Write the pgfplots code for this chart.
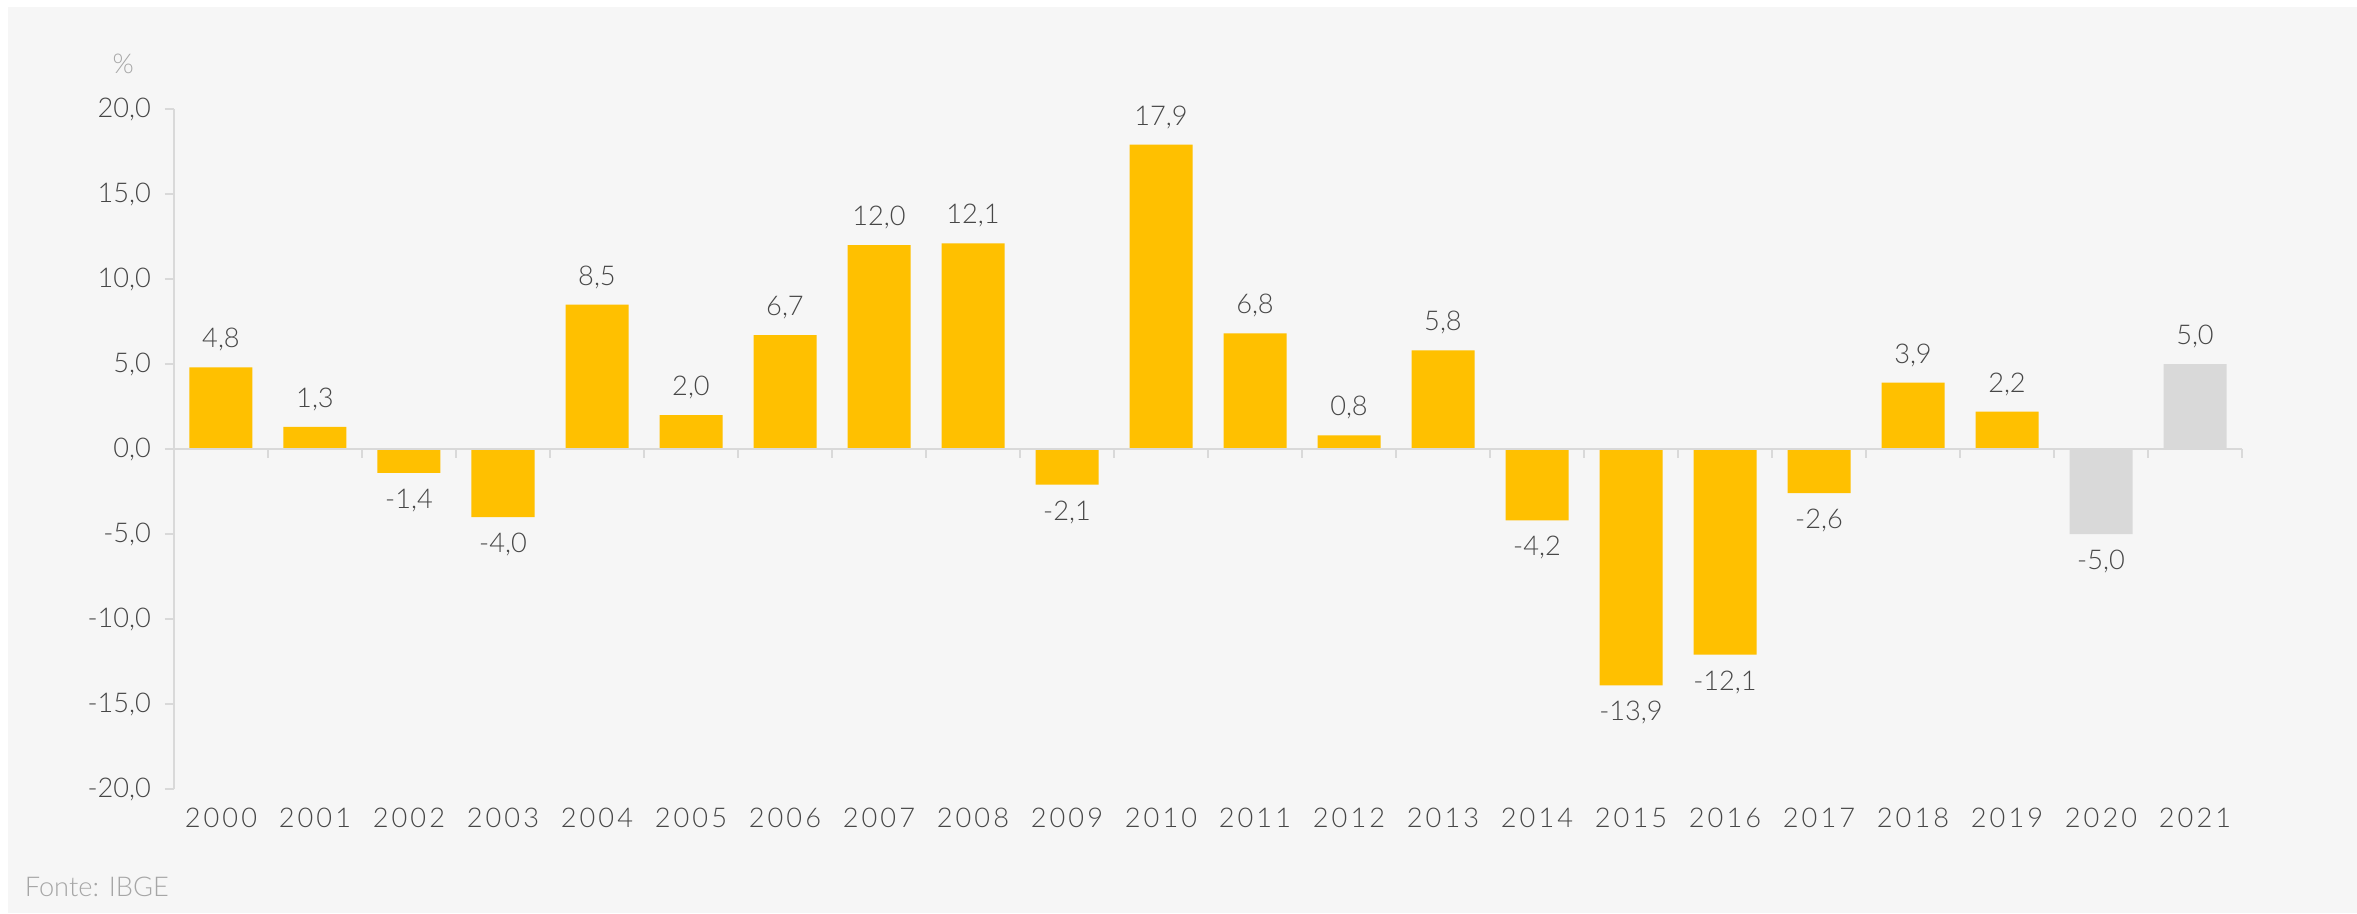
\documentclass[border=0pt]{standalone}
\usepackage{fontspec}
\setmainfont{Lato}[UprightFont=* Light]
\newfontfamily\yearfont{Lato}[UprightFont=* Light, LetterSpace=11]
\usepackage{pgfplots}
\pgfplotsset{compat=1.18}

\definecolor{bargold}{HTML}{FFC000}
\definecolor{bargray}{HTML}{D9D9D9}
\definecolor{axisgray}{HTML}{D9D9D9}
\definecolor{panel}{HTML}{F6F6F6}
\definecolor{txt}{HTML}{474747}
\definecolor{lighttxt}{HTML}{A6A6A6}

\newcommand{\fs}{\fontsize{6.8pt}{8pt}\selectfont}

\begin{document}
\begin{tikzpicture}[x=1pt,y=1pt]
% background panel
\fill[white] (0,0) rectangle (589.25,228.25);
\fill[panel] (2,0) rectangle (589.25,226.5);

\begin{axis}[
    at={(43.5pt,31pt)}, anchor=south west,
    scale only axis, width=517pt, height=170pt,
    xmin=-0.5, xmax=21.5, ymin=-20, ymax=20,
    axis y line=left, axis x line=bottom,
    x axis line style={draw=none},
    y axis line style={draw=axisgray, line width=0.5pt, -},
    tick align=outside, major tick length=2.25pt,
    y tick style={draw=axisgray, line width=0.5pt},
    x tick style={draw=none},
    ytick={-20,-15,...,20},
    xtick={0,...,21},
    xticklabels={2000,2001,2002,2003,2004,2005,2006,2007,2008,2009,2010,
                 2011,2012,2013,2014,2015,2016,2017,2018,2019,2020,2021},
    /pgf/number format/assume math mode=true,
    yticklabel style={font=\fs, text=txt,
        /pgf/number format/.cd, fixed, fixed zerofill, precision=1, use comma},
    xticklabel style={font=\fs\yearfont, text=txt, anchor=center, yshift=-5pt},
    ybar, bar width=15.75pt, bar shift=0pt,
    nodes near coords={\pgfmathprintnumber[fixed,fixed zerofill,precision=1,use comma]{\pgfplotspointmeta}},
    nodes near coords align={vertical},
    every node near coord/.append style={font=\fs, text=txt, inner sep=3.8pt},
    clip=false,
]
% IBGE series
\addplot[draw=none, fill=bargold] coordinates {
(0,4.8) (1,1.3) (2,-1.4) (3,-4.0) (4,8.5) (5,2.0) (6,6.7) (7,12.0) (8,12.1)
(9,-2.1) (10,17.9) (11,6.8) (12,0.8) (13,5.8) (14,-4.2) (15,-13.9) (16,-12.1)
(17,-2.6) (18,3.9) (19,2.2)
};
% last two years in gray
\addplot[draw=none, fill=bargray] coordinates {
(20,-5.0) (21,5.0)
};
% zero line with separators
\draw[axisgray, line width=0.5pt] (axis cs:-0.5,0) -- (axis cs:21.5,0);
\pgfplotsinvokeforeach{0.5,1.5,...,21.5}{
  \draw[axisgray, line width=0.5pt] (axis cs:#1,0) -- ++(0pt,-2.25pt);
}
\end{axis}

\node[font=\fs, text=lighttxt] at (30.8,212.4) {\%};
\node[font=\fs, text=lighttxt, anchor=west, inner sep=0pt] at (6,6.5) {Fonte: IBGE};
\end{tikzpicture}
\end{document}
